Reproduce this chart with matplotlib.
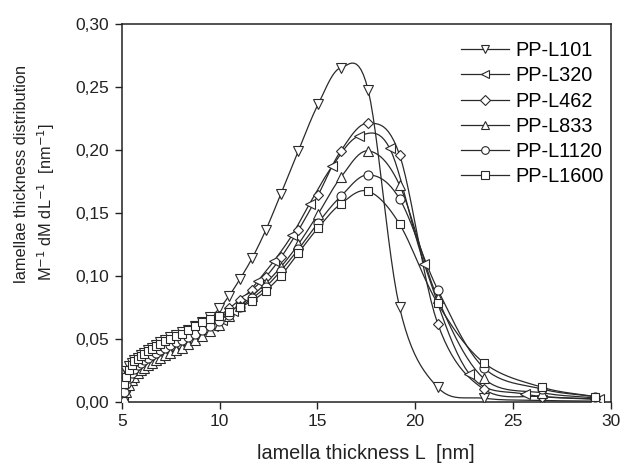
import numpy as np
import matplotlib
matplotlib.use("Agg")
import matplotlib.pyplot as plt
from matplotlib.ticker import FuncFormatter, MultipleLocator

plt.rcParams['font.family'] = ['Liberation Sans', 'DejaVu Sans']

# shared L grid (nm)
L_grid = [5.10, 5.23, 5.36, 5.50, 5.65, 5.81, 5.98, 6.15, 6.34, 6.54, 6.75, 6.98,
          7.22, 7.48, 7.76, 8.06, 8.38, 8.73, 9.12, 9.53, 9.99, 10.49, 11.05, 11.67,
          12.36, 13.14, 14.03, 15.04, 16.2, 17.6, 19.2, 21.15, 23.5, 26.5, 29.2]
# grid for PP-L320
L_320 = [5.04, 5.17, 5.31, 5.45, 5.60, 5.76, 5.93, 6.12, 6.31, 6.51, 6.73, 6.97,
         7.22, 7.49, 7.78, 8.10, 8.44, 8.81, 9.22, 9.66, 10.15, 10.7, 11.3, 11.97,
         12.8, 13.7, 14.6, 15.77, 17.12, 18.7, 20.47, 22.77, 25.6, 29.4]

y_101 = [0.018, 0.024, 0.028, 0.031, 0.033, 0.035, 0.037, 0.039, 0.041, 0.043, 0.045, 0.047,
         0.049, 0.051, 0.053, 0.055, 0.057, 0.060, 0.063, 0.067, 0.074, 0.084, 0.0975, 0.114,
         0.136, 0.165, 0.199, 0.236, 0.265, 0.247, 0.075, 0.0114, 0.0027, 0.001, 0.0005]
y_320 = [0.005, 0.012, 0.018, 0.022, 0.025, 0.028, 0.030, 0.032, 0.034, 0.036, 0.038, 0.040,
         0.042, 0.044, 0.046, 0.048, 0.050, 0.053, 0.056, 0.060, 0.065, 0.072, 0.083, 0.096,
         0.112, 0.132, 0.157, 0.187, 0.2107, 0.201, 0.109, 0.022, 0.006, 0.002]
y_462 = [0.012, 0.019, 0.024, 0.028, 0.031, 0.033, 0.035, 0.037, 0.039, 0.041, 0.043, 0.045,
         0.047, 0.049, 0.051, 0.053, 0.055, 0.058, 0.061, 0.064, 0.068, 0.074, 0.081, 0.089,
         0.099, 0.1145, 0.136, 0.164, 0.199, 0.221, 0.196, 0.062, 0.010, 0.004, 0.002]
y_833 = [0.003, 0.008, 0.013, 0.017, 0.020, 0.023, 0.025, 0.027, 0.029, 0.031, 0.033, 0.035,
         0.037, 0.039, 0.041, 0.043, 0.046, 0.049, 0.052, 0.056, 0.061, 0.068, 0.076, 0.084,
         0.094, 0.107, 0.125, 0.149, 0.178, 0.199, 0.172, 0.082, 0.0185, 0.007, 0.003]
y_1120 = [0.008, 0.014, 0.019, 0.023, 0.026, 0.029, 0.031, 0.033, 0.035, 0.037, 0.039, 0.041,
          0.043, 0.045, 0.047, 0.049, 0.051, 0.054, 0.057, 0.060, 0.064, 0.069, 0.075, 0.082,
          0.091, 0.104, 0.121, 0.142, 0.163, 0.180, 0.161, 0.089, 0.027, 0.010, 0.004]
y_1600 = [0.014, 0.020, 0.025, 0.029, 0.032, 0.034, 0.036, 0.038, 0.040, 0.042, 0.044, 0.046,
          0.048, 0.050, 0.052, 0.054, 0.057, 0.060, 0.063, 0.066, 0.068, 0.071, 0.075, 0.080,
          0.088, 0.100, 0.118, 0.138, 0.157, 0.167, 0.141, 0.078, 0.031, 0.0114, 0.004]

series = [
    ("PP-L101", L_grid, y_101, "v"),
    ("PP-L320", L_320, y_320, "<"),
    ("PP-L462", L_grid, y_462, "D"),
    ("PP-L833", L_grid, y_833, "^"),
    ("PP-L1120", L_grid, y_1120, "o"),
    ("PP-L1600", L_grid, y_1600, "s"),
]
msizes = {"v": 7.5, "<": 7.5, "D": 5.5, "^": 7.5, "o": 6.5, "s": 6.0}


def smooth(x, y, n=12):
    """Catmull-Rom curve through the data points (for line drawing only)."""
    x = np.asarray(x, float)
    y = np.asarray(y, float)
    xs, ys = [], []
    for i in range(len(x) - 1):
        x0, y0 = (x[i - 1], y[i - 1]) if i > 0 else (2 * x[i] - x[i + 1], 2 * y[i] - y[i + 1])
        x3, y3 = (x[i + 2], y[i + 2]) if i + 2 < len(x) else (2 * x[i + 1] - x[i], 2 * y[i + 1] - y[i])
        t = np.linspace(0, 1, n, endpoint=False)
        for p0, p1, p2, p3, out in ((x0, x[i], x[i + 1], x3, xs), (y0, y[i], y[i + 1], y3, ys)):
            out.extend(0.5 * ((2 * p1) + (-p0 + p2) * t + (2 * p0 - 5 * p1 + 4 * p2 - p3) * t ** 2
                              + (-p0 + 3 * p1 - 3 * p2 + p3) * t ** 3))
    xs.append(x[-1])
    ys.append(y[-1])
    return np.array(xs), np.clip(np.array(ys), 0, None)


W, H = 622, 467
fig = plt.figure(figsize=(W / 100, H / 100), dpi=100)
ax = fig.add_axes([0.1957, 0.1398, 0.7863, 0.8097])

lc = '#2a2a2a'
for name, xs, ys, m in series:
    sx, sy = smooth(xs, ys)
    ax.plot(sx, sy, color=lc, lw=0.9, zorder=2)
    ax.plot(xs, ys, linestyle='none', marker=m, ms=msizes[m], mfc='white', mec=lc,
            mew=0.8, zorder=3)
    # legend proxy
    ax.plot([], [], color=lc, lw=0.9, marker=m, ms=msizes[m] * 0.85, mfc='white', mec=lc,
            mew=0.8, label=name)

ax.set_xlim(5, 30)
ax.set_ylim(0, 0.30)
ax.xaxis.set_major_locator(MultipleLocator(5))
ax.yaxis.set_major_locator(MultipleLocator(0.05))
ax.yaxis.set_major_formatter(FuncFormatter(lambda v, p: f"{v:.2f}".replace('.', ',')))
ax.tick_params(direction='out', length=5, width=1.0, labelsize=12.5, colors='#222222', pad=4)
for s in ax.spines.values():
    s.set_linewidth(1.1)
    s.set_color('#222222')

ax.set_xlabel("lamella thickness L  [nm]", fontsize=14.3, color='#222222', labelpad=11)

# two-line y label, bottom-aligned (left-aligned in the rotated frame)
fig.text(22 / W, 1 - 283 / H, "lamellae thickness distribution", rotation=90,
         ha='center', va='bottom', fontsize=11.8, color='#222222')
fig.text(46 / W, 1 - 281 / H, "M$^{-1}$ dM dL$^{-1}$  [nm$^{-1}$]", rotation=90,
         ha='center', va='bottom', fontsize=11.8, color='#222222')

leg = ax.legend(loc='upper right', bbox_to_anchor=(1.015, 0.99), frameon=False, fontsize=14.3,
                handlelength=2.4, handletextpad=0.35, labelspacing=0.31, borderaxespad=0.3)

fig.savefig("out.png", dpi=100)
